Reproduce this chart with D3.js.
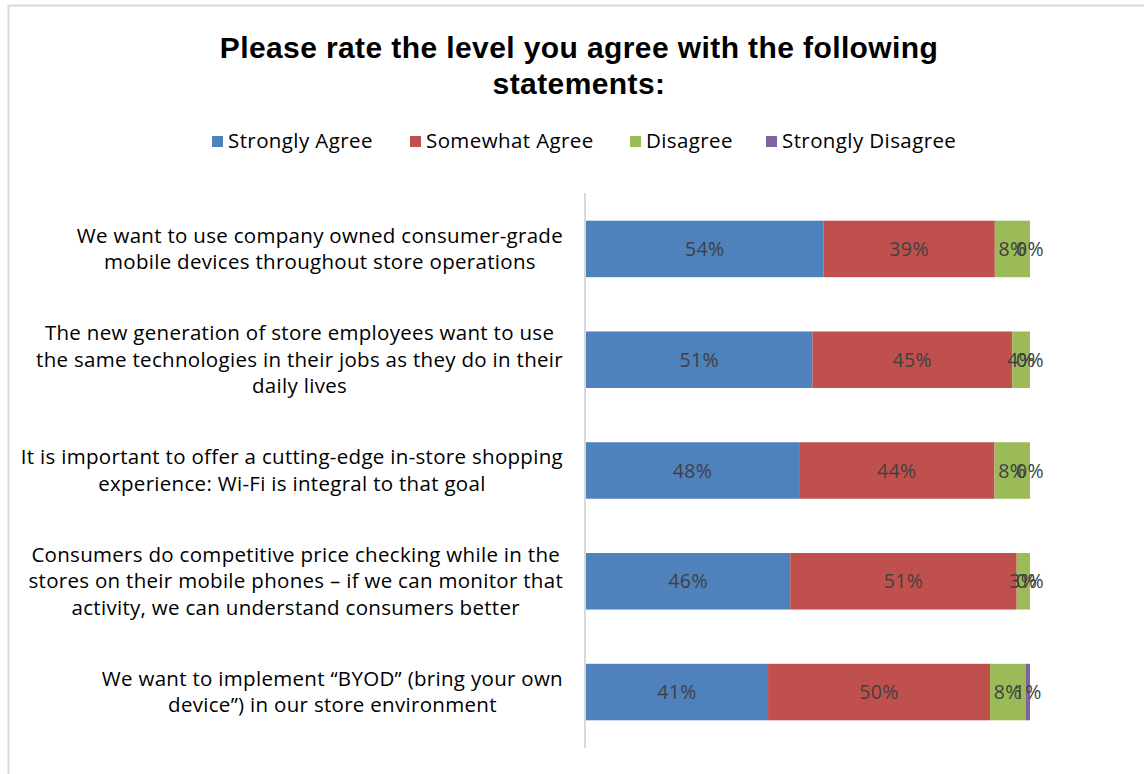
<!DOCTYPE html>
<html>
<head>
<meta charset="utf-8">
<script src="https://cdn.jsdelivr.net/npm/d3@7"></script>
<style>
  html, body { margin: 0; padding: 0; background: #fff; }
  svg { display: block; }
</style>
</head>
<body>
<svg id="chart" width="1144" height="774"></svg>
<script>
// Survey statements (each entry is one wrapped label)
const statements = [
  ["We want to use company owned consumer-grade", "mobile devices throughout store operations"],
  ["The new generation of store employees want to use", "the same technologies in their jobs as they do in their", "daily lives"],
  ["It is important to offer a cutting-edge in-store shopping", "experience: Wi-Fi is integral to that goal"],
  ["Consumers do competitive price checking while in the", "stores on their mobile phones \u2013 if we can monitor that", "activity, we can understand consumers better"],
  ["We want to implement \u201cBYOD\u201d (bring your own", "device\u201d) in our store environment"]
];

// Response shares (percent) per statement
const stronglyAgree    = [54, 51, 48, 46, 41];
const somewhatAgree    = [39, 45, 44, 51, 50];
const disagree         = [8, 4, 8, 3, 8];
const stronglyDisagree = [0, 0, 0, 0, 1];

const seriesNames  = ["Strongly Agree", "Somewhat Agree", "Disagree", "Strongly Disagree"];
const seriesColors = ["#4F81BD", "#C0504D", "#9BBB59", "#8064A2"];

const titleLines = ["Please rate the level you agree with the following", "statements:"];

const FONT = "'Open Sans', Lato, sans-serif";

const svg = d3.select("#chart");

// Outer frame (top and left edges visible)
svg.append("path")
  .attr("d", "M8.5,774 L8.5,5.5 L1144,5.5")
  .attr("fill", "none")
  .attr("stroke", "#d9d9d9")
  .attr("stroke-width", 2);

// Title
svg.append("text")
  .attr("text-anchor", "middle")
  .style("font-family", "'Liberation Sans', Arial, sans-serif")
  .style("font-weight", "bold")
  .style("font-size", "30px")
  .style("letter-spacing", "0.4px")
  .attr("fill", "#000")
  .selectAll("tspan")
  .data(titleLines)
  .join("tspan")
  .attr("x", 579)
  .attr("y", (d, i) => 58 + i * 36)
  .text(d => d);

// Build table rows
const rows = statements.map((s, i) => ({
  key: i,
  label: s,
  values: [stronglyAgree[i], somewhatAgree[i], disagree[i], stronglyDisagree[i]]
}));
const stackInput = rows.map(r => {
  const o = { key: r.key };
  seriesNames.forEach((n, j) => o[n] = r.values[j]);
  return o;
});
// 100% stacked: each row is normalised to its own total
const stacked = d3.stack().keys(seriesNames).offset(d3.stackOffsetExpand)(stackInput);

// Scales
const x = d3.scaleLinear().domain([0, 1]).range([586, 1030]);
const y = d3.scaleBand()
  .domain(rows.map(r => r.key))
  .range([193, 748])
  .paddingInner(0.49)
  .paddingOuter(0.25);

// Bars
const layers = svg.append("g").selectAll("g")
  .data(stacked)
  .join("g")
  .attr("fill", (d, i) => seriesColors[i]);

layers.selectAll("rect")
  .data(d => d)
  .join("rect")
  .attr("x", d => x(d[0]))
  .attr("y", d => y(d.data.key))
  .attr("width", d => x(d[1]) - x(d[0]))
  .attr("height", y.bandwidth());

// Value labels (raw percentages)
const labelG = svg.append("g")
  .style("font-family", FONT)
  .style("font-size", "19.5px")
  .style("letter-spacing", "0.4px")
  .attr("fill", "#404040")
  .attr("text-anchor", "middle");

stacked.forEach(layer => {
  labelG.selectAll(null)
    .data(layer)
    .join("text")
    .attr("x", d => (x(d[0]) + x(d[1])) / 2)
    .attr("y", d => y(d.data.key) + y.bandwidth() / 2 + 7)
    .text(d => d.data[layer.key] + "%");
});

// Category axis line
const axis = d3.axisLeft(y).tickSize(0).tickFormat("");
const axisG = svg.append("g").attr("transform", "translate(585,0)").call(axis);
axisG.select(".domain").attr("stroke", "#d9d9d9").attr("stroke-width", 2)
  .attr("d", "M0,193V748");

// Category labels: centered block whose widest line ends at the right edge
const catG = svg.append("g")
  .style("font-family", FONT)
  .style("font-size", "20.5px")
  .style("letter-spacing", "0.3px")
  .attr("fill", "#000");

rows.forEach(r => {
  const cy = y(r.key) + y.bandwidth() / 2;
  const lh = 26.5;
  const n = r.label.length;
  const t = catG.append("text").attr("text-anchor", "middle");
  const spans = t.selectAll("tspan")
    .data(r.label)
    .join("tspan")
    .attr("y", (d, i) => cy + (i - (n - 1) / 2) * lh + 7)
    .text(d => d);
  let maxW = 0;
  spans.each(function () { maxW = Math.max(maxW, this.getComputedTextLength()); });
  spans.attr("x", 563 - maxW / 2);
});

// Legend
const legendX = [212, 410, 630, 766];
const legend = svg.append("g")
  .style("font-family", FONT)
  .style("font-size", "20.5px")
  .style("letter-spacing", "0.4px");
seriesNames.forEach((name, i) => {
  const g = legend.append("g").attr("transform", `translate(${legendX[i]},0)`);
  g.append("rect").attr("x", 0).attr("y", 136).attr("width", 11).attr("height", 11)
    .attr("fill", seriesColors[i]);
  g.append("text").attr("x", 16).attr("y", 148).attr("fill", "#000").text(name);
});
</script>
</body>
</html>
